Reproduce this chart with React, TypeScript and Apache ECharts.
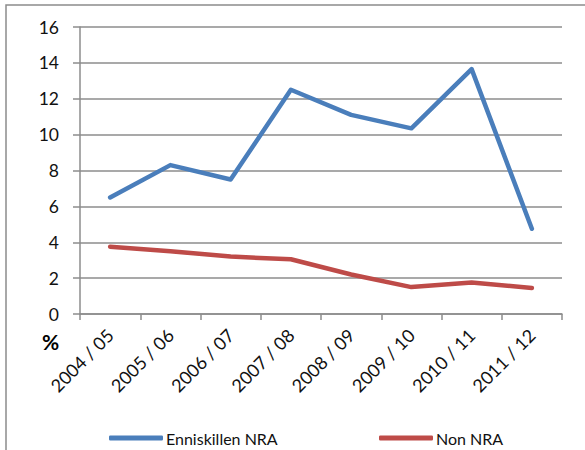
import React, { useEffect, useRef } from "react";
import * as echarts from "echarts";

const categories = ["2004 / 05", "2005 / 06", "2006 / 07", "2007 / 08", "2008 / 09", "2009 / 10", "2010 / 11", "2011 / 12"];
const enniskillen = [6.5, 8.3, 7.5, 12.5, 11.1, 10.35, 13.65, 4.75];
const nonNra = [3.75, 3.5, 3.2, 3.05, 2.2, 1.5, 1.75, 1.45];
const yTicks = { min: 0, max: 16, interval: 2 };

const FONT = "Lato, 'Open Sans', sans-serif";

export default function App() {
  const ref = useRef<HTMLDivElement>(null);
  useEffect(() => {
    if (!ref.current) return;
    const chart = echarts.init(ref.current, undefined, { renderer: "svg" });
    chart.setOption({
      animation: false,
      backgroundColor: "#ffffff",
      textStyle: { fontFamily: FONT },
      grid: { left: 80, right: 23, top: 27, bottom: 136, containLabel: false },
      xAxis: {
        type: "category",
        data: categories,
        boundaryGap: true,
        axisLine: { lineStyle: { color: "#8c8c8c", width: 1.5 } },
        axisTick: { show: true, length: 6, lineStyle: { color: "#8c8c8c", width: 1.5 } },
        axisLabel: { rotate: 45, fontSize: 18, color: "#111", margin: 18, fontFamily: FONT },
      },
      yAxis: {
        type: "value",
        min: yTicks.min,
        max: yTicks.max,
        interval: yTicks.interval,
        axisLine: { show: true, lineStyle: { color: "#8c8c8c", width: 1.5 } },
        axisTick: { show: true, length: 7, lineStyle: { color: "#8c8c8c", width: 1.5 } },
        axisLabel: { fontSize: 17.5, color: "#111", margin: 21, fontFamily: FONT },
        splitLine: { lineStyle: { color: "#8c8c8c", width: 1.5 } },
      },
      legend: [
        {
          data: ["Enniskillen NRA"],
          left: 104,
          top: 425,
          icon: "roundRect",
          itemWidth: 54,
          itemHeight: 5,
          itemGap: 4,
          textStyle: { fontSize: 16, color: "#111", fontFamily: FONT, padding: [0, 0, 0, -2] },
        },
        {
          data: ["Non NRA"],
          left: 374,
          top: 425,
          icon: "roundRect",
          itemWidth: 54,
          itemHeight: 5,
          textStyle: { fontSize: 16, color: "#111", fontFamily: FONT, padding: [0, 0, 0, -2] },
        },
      ],
      graphic: [
        {
          type: "rect",
          shape: { x: 6, y: 5, width: 640, height: 500 },
          style: { fill: "none", stroke: "#8c8c8c", lineWidth: 1.5 },
          silent: true,
        },
        {
          type: "text",
          x: 42,
          y: 331,
          style: { text: "%", fontSize: 21, fontWeight: "bold", fill: "#000", fontFamily: FONT },
        },
      ],
      series: [
        {
          name: "Enniskillen NRA",
          type: "line",
          data: enniskillen,
          symbol: "none",
          lineStyle: { color: "#4a7ebb", width: 4.5, cap: "round", join: "round" },
          itemStyle: { color: "#4a7ebb" },
        },
        {
          name: "Non NRA",
          type: "line",
          data: nonNra,
          symbol: "none",
          lineStyle: { color: "#be4b48", width: 4.5, cap: "round", join: "round" },
          itemStyle: { color: "#be4b48" },
        },
      ],
    });
    return () => chart.dispose();
  }, []);
  return <div ref={ref} style={{ position: "fixed", left: 0, top: 0, width: 585, height: 450 }} />;
}
